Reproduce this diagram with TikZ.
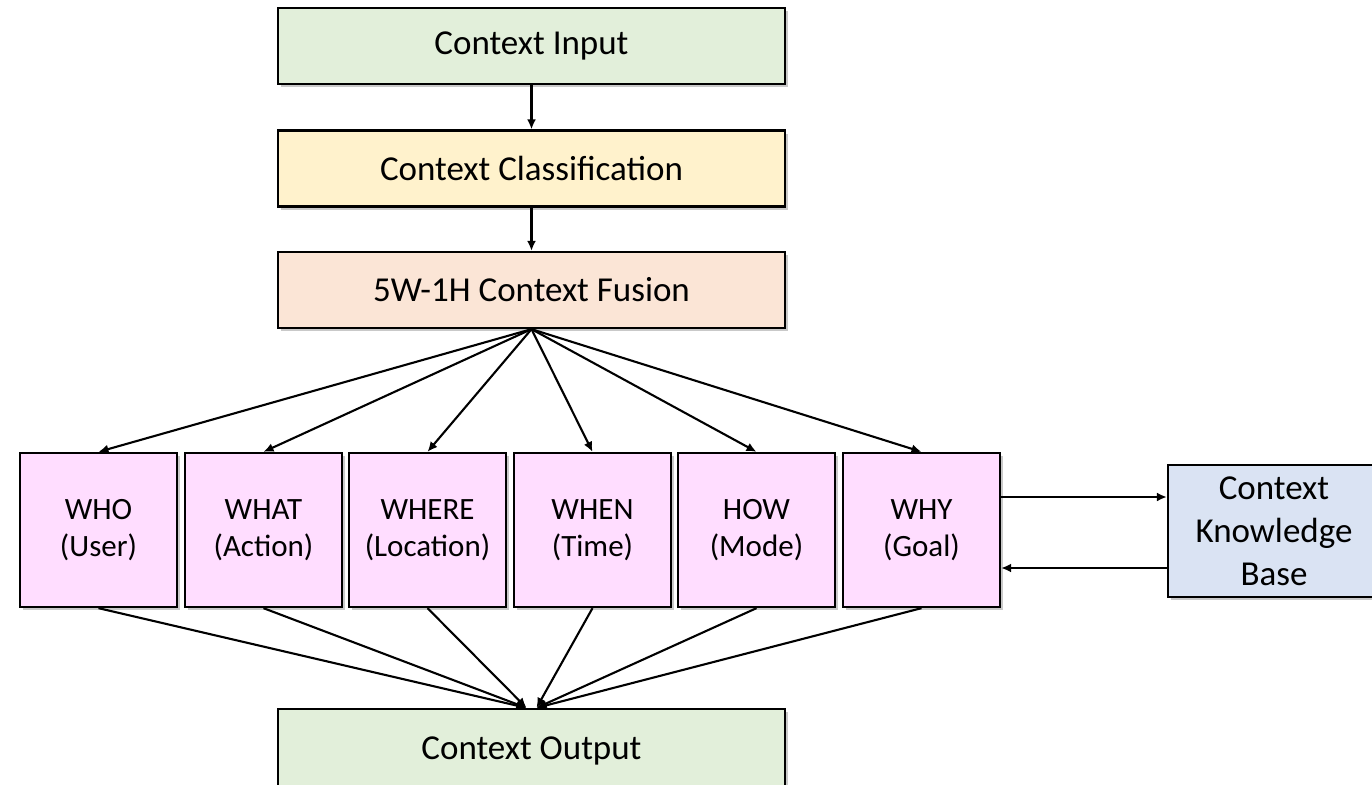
\documentclass[tikz,border=0pt]{standalone}
\usepackage{fontspec}
\setmainfont{Carlito}
\usetikzlibrary{arrows.meta,shadows}

\definecolor{ingreen}{HTML}{E2EFDA}
\definecolor{clsyellow}{HTML}{FFF2CC}
\definecolor{fuspeach}{HTML}{FBE5D6}
\definecolor{wpink}{HTML}{FFDDFF}
\definecolor{kbblue}{HTML}{DAE3F3}

\tikzset{
  box/.style={draw=black, line width=2.3pt, align=center, inner sep=0pt,
    drop shadow={shadow xshift=3pt, shadow yshift=-3pt, opacity=0.35, fill=black!60}},
  widebox/.style={box, minimum width=507pt, minimum height=76pt,
    font=\fontsize{35}{42}\selectfont},
  wbox/.style={box, fill=wpink, minimum width=157pt, minimum height=154pt,
    font=\fontsize{31}{37}\selectfont},
  kbbox/.style={box, fill=kbblue, minimum width=212pt, minimum height=132pt,
    font=\fontsize{35}{43}\selectfont},
  link/.style={line width=2.1pt, -{Latex[length=10pt,width=9pt]}}
}

\begin{document}
\begin{tikzpicture}[x=1pt,y=-1pt]
  \clip (0,0) rectangle (1372,784);
  \fill[white] (0,0) rectangle (1372,784);

  % main pipeline
  \node[widebox, fill=ingreen]   (in)  at (531.5,46)    {Context Input};
  \node[widebox, fill=clsyellow] (cls) at (531.5,168.5) {Context Classification};
  \node[widebox, fill=fuspeach]  (fus) at (531.5,290)   {5W-1H Context Fusion};

  % the six context dimensions
  \node[wbox] (who)   at (98.5,530)  {WHO\\(User)};
  \node[wbox] (what)  at (263.5,530) {WHAT\\(Action)};
  \node[wbox] (where) at (427.5,530) {WHERE\\(Location)};
  \node[wbox] (when)  at (592.5,530) {WHEN\\(Time)};
  \node[wbox] (how)   at (756.5,530) {HOW\\(Mode)};
  \node[wbox] (why)   at (921.5,530) {WHY\\(Goal)};

  \node[kbbox] (kb) at (1274,531) {Context\\Knowledge\\Base};

  \node[widebox, fill=ingreen, minimum height=84pt] (out) at (531.5,751) {\raisebox{6pt}{Context Output}};

  % connectors
  \draw[link] (in) -- (cls);
  \draw[link] (cls) -- (fus);
  \foreach \w in {who,what,where,when,how,why}
    \draw[link] (fus.south) -- (\w.north);

  \foreach \w in {who,what,where}
    \draw[link] (\w.south) -- ([xshift=-5pt]out.north);
  \foreach \w in {when,how,why}
    \draw[link] (\w.south) -- ([xshift=5pt]out.north);

  \draw[link] ([yshift=33pt]why.east) -- ([yshift=33pt]why.east -| kb.west);
  \draw[link] ([yshift=-38pt]why.east -| kb.west) -- ([yshift=-38pt]why.east);
\end{tikzpicture}
\end{document}
